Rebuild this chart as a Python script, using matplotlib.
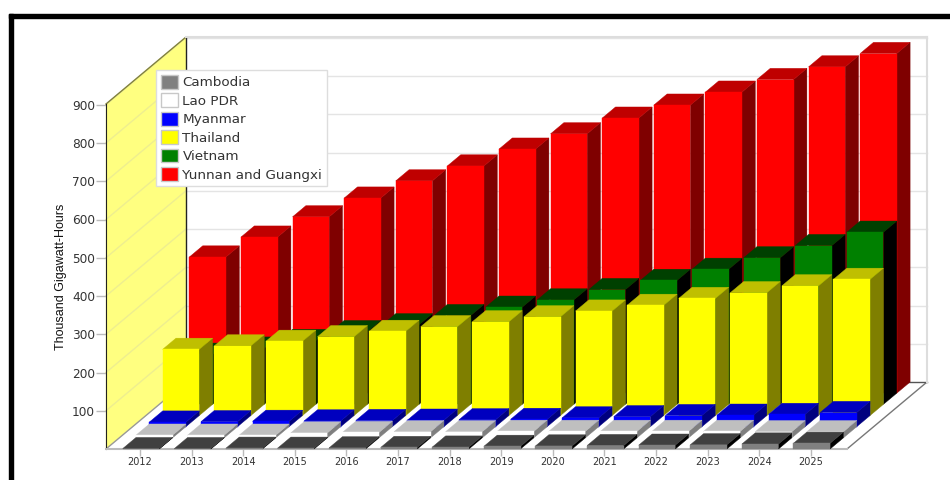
import matplotlib
matplotlib.use("Agg")
import matplotlib.pyplot as plt
from matplotlib.patches import Polygon, Patch, Rectangle

years = [2012, 2013, 2014, 2015, 2016, 2017, 2018, 2019, 2020, 2021, 2022, 2023, 2024, 2025]
cambodia = [1, 1, 2, 2, 3, 4, 5, 7, 8, 9, 10, 11, 13, 15]
lao = [7, 7, 7, 13, 14, 16, 16, 17, 17, 17, 17, 17, 16, 16]
myanmar = [12, 13, 14, 15, 16, 17, 18, 19, 23, 26, 29, 30, 32, 37]
thailand = [173, 182, 194, 206, 220, 232, 245, 258, 273, 288, 306, 321, 339, 356]
vietnam = [131, 147, 167, 190, 208, 232, 254, 273, 300, 324, 353, 383, 415, 450]
yunnan = [356, 408, 461, 510, 555, 594, 638, 678, 719, 753, 787, 820, 853, 888]

names = ["Cambodia", "Lao PDR", "Myanmar", "Thailand", "Vietnam", "Yunnan and Guangxi"]
series = [cambodia, lao, myanmar, thailand, vietnam, yunnan]
colors = [(128, 128, 128), (255, 255, 255), (0, 0, 255), (255, 255, 0), (0, 128, 0), (255, 0, 0)]

# one category = 51.6 px, one unit of value = 0.3825 px
depth_x = 80 / 51.6
depth_y = 67 / 0.3825
row_x = depth_x / 6
row_y = depth_y / 6
bar_w = 36.6 / 51.6
bar_shift = 1 / 51.6
xmin = (106 - 140) / 51.6
xmax = (847 - 140) / 51.6
ymax = 345 / 0.3825


def shade(c, amount):
    return tuple(max(v - amount, 0) / 255 for v in c)


def poly(ax, pts, color, z):
    ax.add_patch(Polygon(pts, closed=True, facecolor=color, edgecolor=color, lw=0.3, clip_on=False, zorder=z))


def bar3d(ax, i, row, value, c, z):
    x0 = i + bar_shift - bar_w / 2 + row * row_x
    x1 = x0 + bar_w
    y0 = row * row_y
    y1 = y0 + value
    poly(ax, [(x1, y0), (x1 + row_x, y0 + row_y), (x1 + row_x, y1 + row_y), (x1, y1)], shade(c, 128), z)
    poly(ax, [(x0, y1), (x1, y1), (x1 + row_x, y1 + row_y), (x0 + row_x, y1 + row_y)], shade(c, 64), z)
    poly(ax, [(x0, y0), (x1, y0), (x1, y1), (x0, y1)], shade(c, 0), z)


fig = plt.figure(figsize=(9.5, 4.8), dpi=100)
ax = fig.add_axes([106 / 950, 31 / 480, 741 / 950, 345 / 480])
ax.set_xlim(xmin, xmax)
ax.set_ylim(0, ymax)
ax.patch.set_visible(False)

# side wall, back wall, floor
poly(ax, [(xmin, 0), (xmin + depth_x, depth_y), (xmin + depth_x, depth_y + ymax), (xmin, ymax)], "#ffff80", 0.5)
ax.plot([xmin, xmin + depth_x], [ymax, ymax + depth_y], color="#808040", lw=1, clip_on=False, zorder=0.8)
ax.plot([xmin + depth_x, xmin + depth_x], [depth_y, depth_y + ymax], color="#222222", lw=1, clip_on=False, zorder=0.8)
ax.plot([xmin, xmin + depth_x], [0, depth_y], color="#999999", lw=1, clip_on=False, zorder=0.8)
ax.plot([xmax, xmax + depth_x], [0, depth_y], color="#777777", lw=1, clip_on=False, zorder=0.8)
ax.plot([xmin + depth_x, xmax + depth_x], [depth_y, depth_y], color="#555555", lw=1, clip_on=False, zorder=0.8)
ax.plot([xmax + depth_x, xmax + depth_x], [depth_y, depth_y + ymax], color="#dddddd", lw=1.5, clip_on=False, zorder=0.8)
ax.plot([xmin + depth_x, xmax + depth_x], [depth_y + ymax, depth_y + ymax], color="#dddddd", lw=1.5, clip_on=False, zorder=0.8)

ticks = list(range(100, 1000, 100))
for t in ticks:
    ax.plot([xmin, xmin + depth_x], [t, t + depth_y], color="#eeee90", lw=1, clip_on=False, zorder=0.7)
    ax.plot([xmin + depth_x, xmax + depth_x], [t + depth_y, t + depth_y], color="#e4e4e4", lw=1, clip_on=False, zorder=0.7)

z = 3
for row in range(5, -1, -1):
    for i, v in enumerate(series[row]):
        bar3d(ax, i, row, v, colors[row], z)
    z += 1

ax.set_xticks(range(len(years)))
ax.set_xticklabels(years)
ax.set_yticks(ticks)
ax.tick_params(axis="x", length=5, width=1, color="#bbbbbb", labelsize=7, labelcolor="#333333", pad=1)
ax.tick_params(axis="y", length=7, width=1, color="#bbbbbb", labelsize=8.7, labelcolor="#333333", pad=1)
for s in ["top", "right"]:
    ax.spines[s].set_visible(False)
ax.spines["left"].set_color("#222222")
ax.spines["bottom"].set_color("#bbbbbb")
ax.spines["bottom"].set_linewidth(1.5)
ax.set_ylabel("Thousand Gigawatt-Hours", family="Liberation Sans", fontsize=9, color="#111111")
ax.yaxis.set_label_coords((67 - 106) / 741, (449 - 277) / 345)

handles = [Patch(facecolor=shade(c, 0), edgecolor="#c8c8c8", lw=1) for c in colors]
leg = ax.legend(handles, names, loc="upper left", bbox_to_anchor=(156 / 950, 1 - 70 / 480),
                bbox_transform=fig.transFigure, borderaxespad=0, fancybox=False, framealpha=1,
                edgecolor="#dddddd", fontsize=9.7, labelcolor="#333333", handlelength=1.26, handleheight=1.2,
                handletextpad=0.35, labelspacing=0.3, borderpad=0.35)
leg.set_zorder(20)

# black frame of the picture
fig.add_artist(Rectangle((9 / 950, 0), 4 / 950, 466 / 480, transform=fig.transFigure, color="black"))
fig.add_artist(Rectangle((9 / 950, 462 / 480), 941 / 950, 4 / 480, transform=fig.transFigure, color="black"))

fig.savefig("out.png", dpi=100)
